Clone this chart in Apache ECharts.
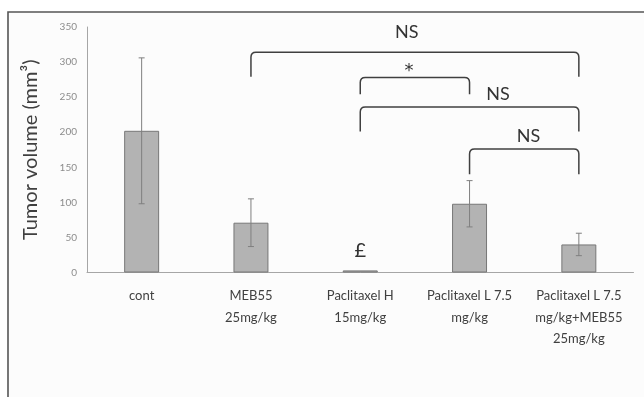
<!DOCTYPE html>
<html>
<head>
<meta charset="utf-8">
<style>html,body{margin:0;padding:0;background:#fff;}#c{width:644px;height:397px;}</style>
<script src="https://cdn.jsdelivr.net/npm/echarts@6/dist/echarts.min.js"></script>
</head>
<body>
<div id="c"></div>
<script>
var categories = ['cont', 'MEB55\n25mg/kg', 'Paclitaxel H\n15mg/kg', 'Paclitaxel L 7.5\nmg/kg', 'Paclitaxel L 7.5\nmg/kg+MEB55\n25mg/kg'];
var means = [202, 71, 3, 98, 40];
var errors = [104, 34, 0, 33, 16];
var yTicks = [0, 350, 50];
// brackets: [startCategory, endCategory, topValue, legValue]
var bracketStart = [1, 2, 2, 3];
var bracketEnd = [4, 3, 4, 4];
var bracketTop = [314, 278, 236, 176];
var bracketLeg = [279, 254, 201, 140];
var bracketText = ['NS', '*', 'NS', 'NS'];
var bracketTextFrac = [0.475, 0.445, 0.63, 0.54];
var bracketTextValue = [342, 294, 254, 195];
var markText = '£';
var markCategory = 2;
var markValue = 32;

var chart = echarts.init(document.getElementById('c'));
var errData = means.map(function (m, i) { return [i, m - errors[i], m + errors[i]]; });
var brData = bracketStart.map(function (s, i) {
  return [s, bracketEnd[i], bracketTop[i], bracketLeg[i], bracketTextFrac[i], bracketTextValue[i], bracketText[i]];
});
var FONT = 'Lato, "Open Sans", sans-serif';

chart.setOption({
  animation: false,
  backgroundColor: '#ffffff',
  graphic: [{
    type: 'rect', z: -10, silent: true,
    shape: { x: 8, y: 12, width: 700, height: 420 },
    style: { fill: '#fcfcfc', stroke: '#555555', lineWidth: 1.6 }
  }],
  grid: { left: 87, right: 10.5, top: 27, bottom: 124.5 },
  xAxis: {
    type: 'category',
    data: categories,
    axisLine: { lineStyle: { color: '#a6a6a6', width: 1 } },
    axisTick: { show: false },
    axisLabel: { interval: 0, color: '#404040', fontFamily: FONT, fontSize: 13, lineHeight: 21.5, margin: 13 }
  },
  yAxis: {
    type: 'value',
    min: yTicks[0], max: yTicks[1], interval: yTicks[2],
    name: 'Tumor volume (mm³)',
    nameLocation: 'middle',
    nameGap: 46,
    nameTextStyle: { color: '#404040', fontFamily: FONT, fontSize: 20 },
    axisLine: { show: true, lineStyle: { color: '#a6a6a6', width: 1 } },
    axisTick: { show: false },
    splitLine: { show: false },
    axisLabel: { color: '#8c8c8c', fontFamily: FONT, fontSize: 10, margin: 10 }
  },
  series: [{
    type: 'bar',
    data: means,
    barWidth: '32%',
    itemStyle: { color: '#b3b3b3', borderColor: '#777777', borderWidth: 1 }
  }, {
    type: 'custom',
    data: errData,
    z: 5,
    renderItem: function (params, api) {
      var lo = api.coord([api.value(0), api.value(1)]);
      var hi = api.coord([api.value(0), api.value(2)]);
      if (api.value(2) - api.value(1) <= 0) return null;
      var w = 3;
      var st = { stroke: '#7f7f7f', lineWidth: 1 };
      return { type: 'group', children: [
        { type: 'line', shape: { x1: lo[0], y1: lo[1], x2: hi[0], y2: hi[1] }, style: st },
        { type: 'line', shape: { x1: lo[0] - w, y1: lo[1], x2: lo[0] + w, y2: lo[1] }, style: st },
        { type: 'line', shape: { x1: hi[0] - w, y1: hi[1], x2: hi[0] + w, y2: hi[1] }, style: st }
      ]};
    }
  }, {
    type: 'custom',
    data: brData,
    clip: false,
    z: 6,
    renderItem: function (params, api) {
      var p1 = api.coord([api.value(0), api.value(2)]);
      var p2 = api.coord([api.value(1), api.value(2)]);
      var yl = api.coord([api.value(0), api.value(3)])[1];
      var frac = api.value(4);
      var ty = api.coord([api.value(0), api.value(5)])[1];
      var tx = p1[0] + (p2[0] - p1[0]) * frac;
      var r = 5;
      var x1 = p1[0], x2 = p2[0], yt = p1[1];
      var path = 'M' + x1 + ',' + yl + ' L' + x1 + ',' + (yt + r) +
        ' Q' + x1 + ',' + yt + ' ' + (x1 + r) + ',' + yt +
        ' L' + (x2 - r) + ',' + yt +
        ' Q' + x2 + ',' + yt + ' ' + x2 + ',' + (yt + r) +
        ' L' + x2 + ',' + yl;
      var txt = brData[params.dataIndex][6];
      var star = txt === '*';
      return { type: 'group', children: [
        { type: 'path', shape: { pathData: path }, style: { stroke: '#404040', lineWidth: 1.5, fill: null } },
        { type: 'text', x: tx, y: ty + (star ? 5 : 0),
          style: { text: txt, fill: '#333333', font: star ? '18px "DejaVu Sans", sans-serif' : '18px ' + FONT, align: 'center', verticalAlign: 'middle' } }
      ]};
    }
  }, {
    type: 'custom',
    data: [[markCategory, markValue]],
    z: 6,
    renderItem: function (params, api) {
      var p = api.coord([api.value(0), api.value(1)]);
      return { type: 'text', x: p[0], y: p[1],
        style: { text: markText, fill: '#333333', font: '20px ' + FONT, align: 'center', verticalAlign: 'middle' } };
    }
  }]
});
</script>
</body>
</html>
